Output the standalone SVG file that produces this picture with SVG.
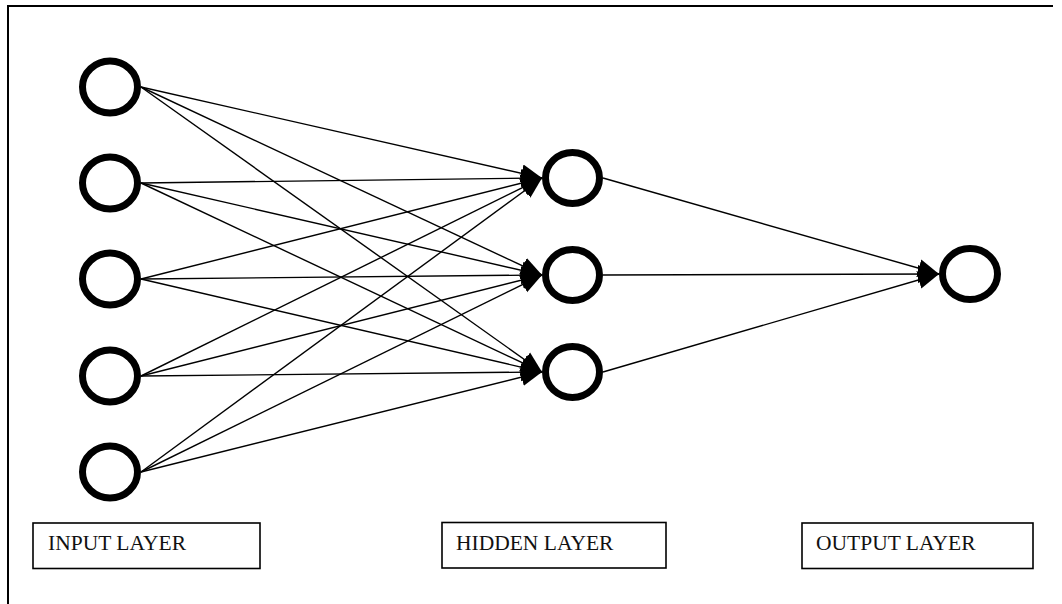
<svg xmlns="http://www.w3.org/2000/svg" width="1062" height="604" viewBox="0 0 1062 604">
<style>
.node{fill:#fff;stroke:#000;stroke-width:7}
.edge{stroke:#000;stroke-width:1.4;fill:none;marker-end:url(#arr)}
.box{fill:#fff;stroke:#000;stroke-width:1.6}
.lbl{font-family:"Liberation Serif","Times New Roman",serif;font-size:21.5px;fill:#111}
</style>
<defs>
<marker id="arr" markerUnits="userSpaceOnUse" markerWidth="22" markerHeight="20" viewBox="0 0 22 20" refX="21" refY="10" orient="auto">
<path d="M0,1 L21,10 L0,19 Z" fill="#000"/>
</marker>
</defs>
<rect width="1062" height="604" fill="#fff"/>
<path d="M8,604 V6 H1053" fill="none" stroke="#000" stroke-width="2"/>
<g id="connectors">
<line class="edge" x1="141" y1="87" x2="542" y2="178"/>
<line class="edge" x1="141" y1="87" x2="542" y2="275"/>
<line class="edge" x1="141" y1="87" x2="542" y2="372"/>
<line class="edge" x1="141" y1="183" x2="542" y2="178"/>
<line class="edge" x1="141" y1="183" x2="542" y2="275"/>
<line class="edge" x1="141" y1="183" x2="542" y2="372"/>
<line class="edge" x1="141" y1="279" x2="542" y2="178"/>
<line class="edge" x1="141" y1="279" x2="542" y2="275"/>
<line class="edge" x1="141" y1="279" x2="542" y2="372"/>
<line class="edge" x1="141" y1="376" x2="542" y2="178"/>
<line class="edge" x1="141" y1="376" x2="542" y2="275"/>
<line class="edge" x1="141" y1="376" x2="542" y2="372"/>
<line class="edge" x1="141" y1="472" x2="542" y2="178"/>
<line class="edge" x1="141" y1="472" x2="542" y2="275"/>
<line class="edge" x1="141" y1="472" x2="542" y2="372"/>
<line class="edge" x1="603" y1="178" x2="939" y2="274"/>
<line class="edge" x1="603" y1="275" x2="939" y2="274"/>
<line class="edge" x1="603" y1="372" x2="939" y2="274"/>
</g>
<g id="input1"><ellipse class="node" cx="110" cy="87" rx="27.5" ry="26"/></g>
<g id="input2"><ellipse class="node" cx="110" cy="183" rx="27.5" ry="26"/></g>
<g id="input3"><ellipse class="node" cx="110" cy="279" rx="27.5" ry="26"/></g>
<g id="input4"><ellipse class="node" cx="110" cy="376" rx="27.5" ry="26"/></g>
<g id="input5"><ellipse class="node" cx="110" cy="472" rx="27.5" ry="26"/></g>
<g id="hidden1"><ellipse class="node" cx="572.5" cy="178" rx="27" ry="25.5"/></g>
<g id="hidden2"><ellipse class="node" cx="572.5" cy="275" rx="27" ry="25.5"/></g>
<g id="hidden3"><ellipse class="node" cx="572.5" cy="372" rx="27" ry="25.5"/></g>
<g id="output1"><ellipse class="node" cx="970" cy="274" rx="27.5" ry="25.5"/></g>
<g id="label-input"><rect class="box" x="33" y="523" width="227" height="45.5"/><text class="lbl" x="48" y="550">INPUT LAYER</text></g>
<g id="label-hidden"><rect class="box" x="442" y="522.5" width="224" height="45.5"/><text class="lbl" x="456" y="550">HIDDEN LAYER</text></g>
<g id="label-output"><rect class="box" x="802" y="523" width="231" height="45.5"/><text class="lbl" x="816" y="550">OUTPUT LAYER</text></g>
</svg>
